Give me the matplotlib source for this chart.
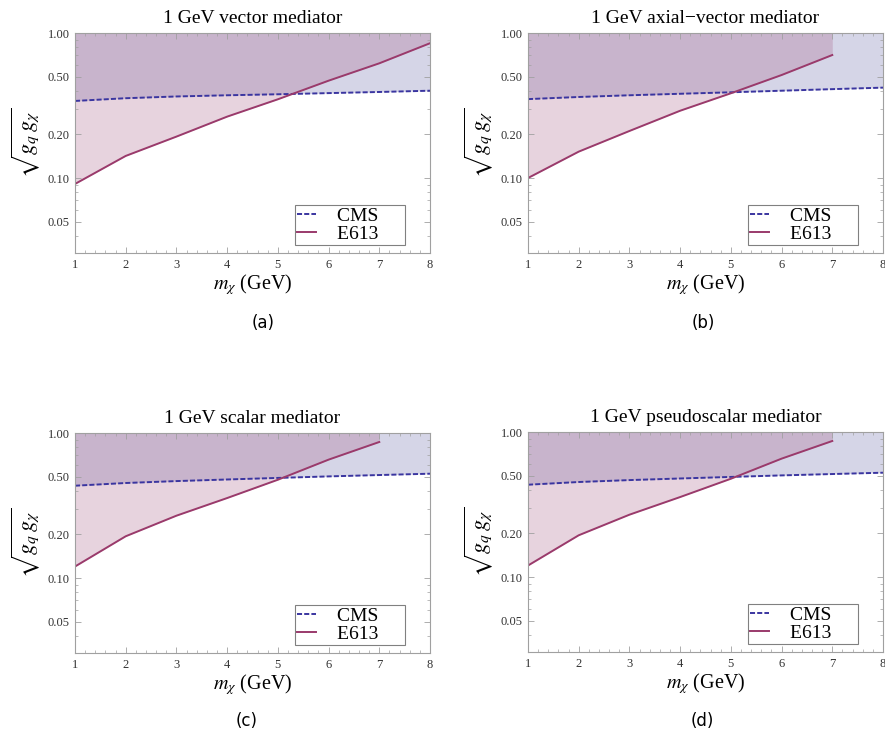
import numpy as np
import matplotlib
matplotlib.use("Agg")
import matplotlib.pyplot as plt
from matplotlib.ticker import MultipleLocator, FixedLocator, NullFormatter, LogLocator, FormatStrFormatter

plt.rcParams['mathtext.fontset'] = 'stix'

# mass grid (GeV)
m_cms = [1, 2, 3, 4, 5, 6, 7, 8]

# CMS limits
cms_a = [0.340, 0.355, 0.365, 0.372, 0.378, 0.385, 0.392, 0.400]
cms_b = [0.350, 0.362, 0.372, 0.381, 0.390, 0.400, 0.410, 0.420]
cms_c = [0.433, 0.452, 0.466, 0.478, 0.490, 0.502, 0.513, 0.524]
cms_d = [0.433, 0.452, 0.466, 0.478, 0.490, 0.502, 0.513, 0.524]

# E613 limits
m_e613_a = [1, 2, 3, 4, 5, 6, 7, 8]
e613_a = [0.091, 0.142, 0.193, 0.265, 0.349, 0.469, 0.618, 0.850]
m_e613_b = [1, 2, 3, 4, 5, 6, 7]
e613_b = [0.100, 0.152, 0.211, 0.291, 0.384, 0.513, 0.705]
m_e613_c = [1, 2, 3, 4, 5, 6, 7]
e613_c = [0.120, 0.194, 0.269, 0.356, 0.476, 0.655, 0.867]
m_e613_d = [1, 2, 3, 4, 5, 6, 7]
e613_d = [0.120, 0.194, 0.269, 0.356, 0.476, 0.655, 0.867]

titles = ["1 GeV vector mediator", "1 GeV axial\u2212vector mediator",
          "1 GeV scalar mediator", "1 GeV pseudoscalar mediator"]
captions = ["(a)", "(b)", "(c)", "(d)"]
caption_xy = [(263, 323), (703, 323), (247, 721), (702, 721)]

panels = [(cms_a, m_e613_a, e613_a), (cms_b, m_e613_b, e613_b),
          (cms_c, m_e613_c, e613_c), (cms_d, m_e613_d, e613_d)]

W, H = 885, 735
boxes = [(75, 253), (528, 253), (75, 653), (528, 652)]
ax_w, ax_h = 355, 220

cms_col = "#3a35a0"
e613_col = "#9a3a6b"
frame_col = "#a0a0a0"
serif = "Liberation Serif"

fig = plt.figure(figsize=(W / 100, H / 100), dpi=100)

for i, (cms, me, e613) in enumerate(panels):
    left, bottom = boxes[i]
    ax = fig.add_axes([left / W, 1 - bottom / H, ax_w / W, ax_h / H])
    ax.set_yscale("log")
    ax.set_xlim(1, 8)
    ax.set_ylim(0.0304, 1.0)

    ax.fill_between(m_cms, cms, 1.0, color=(91/255, 91/255, 163/255), alpha=0.25, lw=0)
    ax.fill_between(me, e613, 1.0, color=(163/255, 83/255, 127/255), alpha=0.25, lw=0)
    ax.plot(m_cms, cms, color=cms_col, ls=(0, (2.6, 1.1)), lw=1.4, label="CMS     ")
    ax.plot(me, e613, color=e613_col, lw=1.4, label="E613     ")

    ax.xaxis.set_major_locator(MultipleLocator(1))
    ax.xaxis.set_minor_locator(MultipleLocator(0.2))
    ax.xaxis.set_major_formatter(FormatStrFormatter("%d"))
    ax.yaxis.set_major_locator(FixedLocator([0.05, 0.1, 0.2, 0.5, 1.0]))
    ax.yaxis.set_major_formatter(FormatStrFormatter("%.2f"))
    ax.yaxis.set_minor_locator(LogLocator(base=10, subs=np.arange(1, 10) * 1.0, numticks=10))
    ax.yaxis.set_minor_formatter(NullFormatter())

    ax.tick_params(which="both", direction="in", top=True, right=True, color=frame_col,
                   labelsize=9, labelcolor="#333333", pad=4)
    ax.tick_params(which="major", length=4, width=0.6)
    ax.tick_params(which="minor", length=2, width=0.5)
    for lab in ax.get_xticklabels() + ax.get_yticklabels():
        lab.set_fontfamily(serif)
    for sp in ax.spines.values():
        sp.set_color(frame_col)
        sp.set_linewidth(0.8)

    ax.set_title(titles[i], fontfamily=serif, fontsize=14, pad=7)
    ax.set_xlabel(r"$m_\chi$ (GeV)", fontfamily=serif, fontsize=14.5, labelpad=1)
    ax.set_ylabel(r"$\sqrt{g_q\,g_\chi}$", fontsize=16, labelpad=4)

    leg = ax.legend(loc="lower right", bbox_to_anchor=(0.93, 0.036), borderaxespad=0,
                    fancybox=False, framealpha=1, edgecolor="#808080", handlelength=0.95,
                    prop={"family": serif, "size": 14}, borderpad=0.12,
                    labelspacing=0.02, handletextpad=1.1)
    leg.get_frame().set_linewidth(0.8)

    cx, cy = caption_xy[i]
    fig.text(cx / W, 1 - cy / H, captions[i],
             ha="center", va="center", fontsize=12, fontfamily="DejaVu Sans")

fig.savefig("out.png", dpi=100)
